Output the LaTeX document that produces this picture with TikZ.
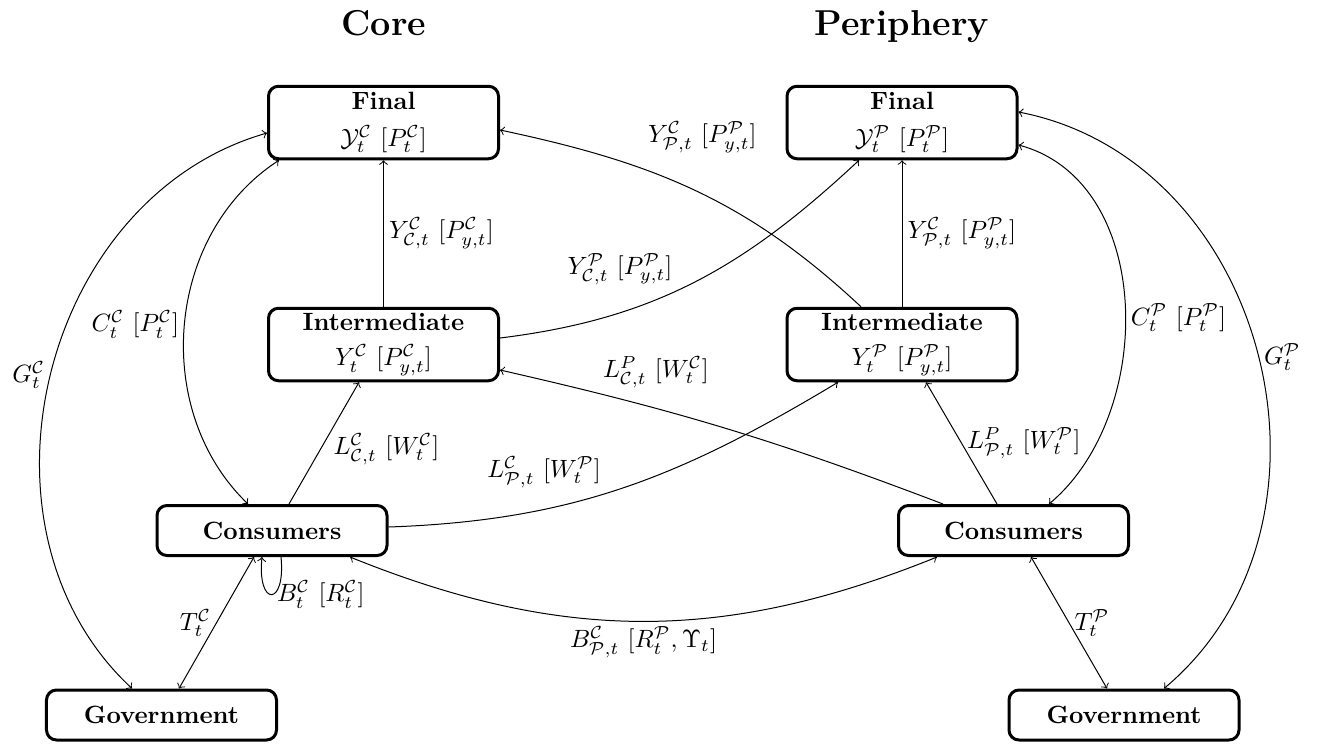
\documentclass[tikz,border=0pt]{standalone}
\usetikzlibrary{calc}
\begin{document}
\begin{tikzpicture}[x=0.4pt,y=0.4pt,
  box/.style={draw, line width=1.2pt, rounded corners=4pt, align=center, minimum width=92pt, inner sep=2pt},
  bigbox/.style={box, minimum height=29pt},
  smallbox/.style={box, minimum height=20pt},
  lab/.style={inner sep=2pt},
  conn/.style={->, line width=0.4pt},
  both/.style={<->, line width=0.4pt},
  title/.style={font=\Large\bfseries, anchor=base}]
\useasboundingbox (0,0) rectangle (1319,743);
% titles
\node[title] (tC) at (384,708) {Core};
\node[title] (tP) at (902,708) {Periphery};
% nodes
\node[bigbox] (CF) at (383.5,620.5) {\textbf{Final}\\[3pt]$\mathcal{Y}^{\mathcal{C}}_t\ [P^{\mathcal{C}}_t]$};
\node[bigbox] (PF) at (902,620.5) {\textbf{Final}\\[3pt]$\mathcal{Y}^{\mathcal{P}}_t\ [P^{\mathcal{P}}_t]$};
\node[bigbox] (CI) at (383.5,398.5) {\textbf{Intermediate}\\[2pt]$Y^{\mathcal{C}}_t\ [P^{\mathcal{C}}_{y,t}]$};
\node[bigbox] (PI) at (902,398.5) {\textbf{Intermediate}\\[2pt]$Y^{\mathcal{P}}_t\ [P^{\mathcal{P}}_{y,t}]$};
\node[smallbox] (CC) at (272,212.5) {\textbf{Consumers}};
\node[smallbox] (PC) at (1013.5,212.5) {\textbf{Consumers}};
\node[smallbox] (CG) at (161.5,28) {\textbf{Government}};
\node[smallbox] (PG) at (1124,28) {\textbf{Government}};
% intermediate -> final
\draw[conn] (CI.north) -- node[midway, right, lab] (l1) {$Y^{\mathcal{C}}_{\mathcal{C},t}\ [P^{\mathcal{C}}_{y,t}]$} (CF.south);
\draw[conn] (PI.north) -- node[midway, right, lab] (l2) {$Y^{\mathcal{C}}_{\mathcal{P},t}\ [P^{\mathcal{P}}_{y,t}]$} (PF.south);
\draw[conn] ($(CI.east)+(0,6.5)$) to[out=7, in=223] node[pos=0.45, above left, lab] (l3) {$Y^{\mathcal{P}}_{\mathcal{C},t}\ [P^{\mathcal{P}}_{y,t}]$} ($(PF.south)+(-43,0)$);
\draw[conn] ($(PI.north)+(-41,0)$) to[out=137, in=-12] node[pos=0.65, above right, lab, yshift=4pt] (l4) {$Y^{\mathcal{C}}_{\mathcal{P},t}\ [P^{\mathcal{P}}_{y,t}]$} ($(CF.east)+(0,-7.5)$);
% consumers -> intermediate
\draw[conn] ($(CC.north)+(17,0)$) -- node[pos=0.45, right, lab, xshift=3pt] (l5) {$L^{\mathcal{C}}_{\mathcal{C},t}\ [W^{\mathcal{C}}_t]$} ($(CI.south)+(-24.5,0)$);
\draw[conn] ($(CC.east)+(0,3.5)$) to[out=2, in=211] node[pos=0.46, above left, lab] (l6) {$L^{\mathcal{C}}_{\mathcal{P},t}\ [W^{\mathcal{P}}_t]$} ($(PI.south)+(-64,0)$);
\draw[conn] ($(PC.north)+(-70.5,0)$) to[bend right=4] node[pos=0.8, anchor=south west, lab] (l7) {$L^{P}_{\mathcal{C},t}\ [W^{\mathcal{C}}_t]$} ($(CI.east)+(0,-25.5)$);
\draw[conn] ($(PC.north)+(-16.5,0)$) -- node[pos=0.5, right, lab] (l8) {$L^{P}_{\mathcal{P},t}\ [W^{\mathcal{P}}_t]$} ($(PI.south)+(24,0)$);
% final <-> consumers / government
\draw[both] ($(CF.south west)+(12,0)$) to[out=213, in=136] node[midway, left, lab] (l9) {$C^{\mathcal{C}}_t\ [P^{\mathcal{C}}_t]$} ($(CC.north)+(-24,0)$);
\draw[both] ($(CF.west)+(0,-10.5)$) to[out=196, in=137, looseness=1.05] node[pos=0.5, left, lab] (l10) {$G^{\mathcal{C}}_t$} ($(CG.north)+(-29.5,0)$);
\draw[both] ($(PF.east)+(0,-22.5)$) to[out=-15, in=40] node[pos=0.53, right, lab] (l11) {$C^{\mathcal{P}}_t\ [P^{\mathcal{P}}_t]$} ($(PC.north)+(35.5,0)$);
\draw[both] ($(PF.east)+(0,10.5)$) to[out=-11, in=40, looseness=1.1] node[pos=0.5, right, lab] (l12) {$G^{\mathcal{P}}_t$} ($(PG.north)+(40,0)$);
% consumers <-> government
\draw[both] ($(CC.south)+(-18,0)$) -- node[midway, left, lab] (l13) {$T^{\mathcal{C}}_t$} ($(CG.north)+(17.5,0)$);
\draw[both] ($(PC.south)+(17.5,0)$) -- node[midway, right, lab] (l14) {$T^{\mathcal{P}}_t$} ($(PG.north)+(-17,0)$);
% bonds
\draw[both] ($(CC.south)+(78,0)$) to[out=-22, in=202] node[midway, below, lab] (l15) {$B^{\mathcal{C}}_{\mathcal{P},t}\ [R^{\mathcal{P}}_t, \Upsilon_t]$} ($(PC.south)+(-76.5,0)$);
\draw[conn] ($(CC.south)+(9,0)$) .. controls +(5,-50) and +(-5,-50) .. node[pos=0.5, right, lab] (l16) {$B^{\mathcal{C}}_t\ [R^{\mathcal{C}}_t]$} ($(CC.south)+(-10,0)$);
\end{tikzpicture}
\end{document}
